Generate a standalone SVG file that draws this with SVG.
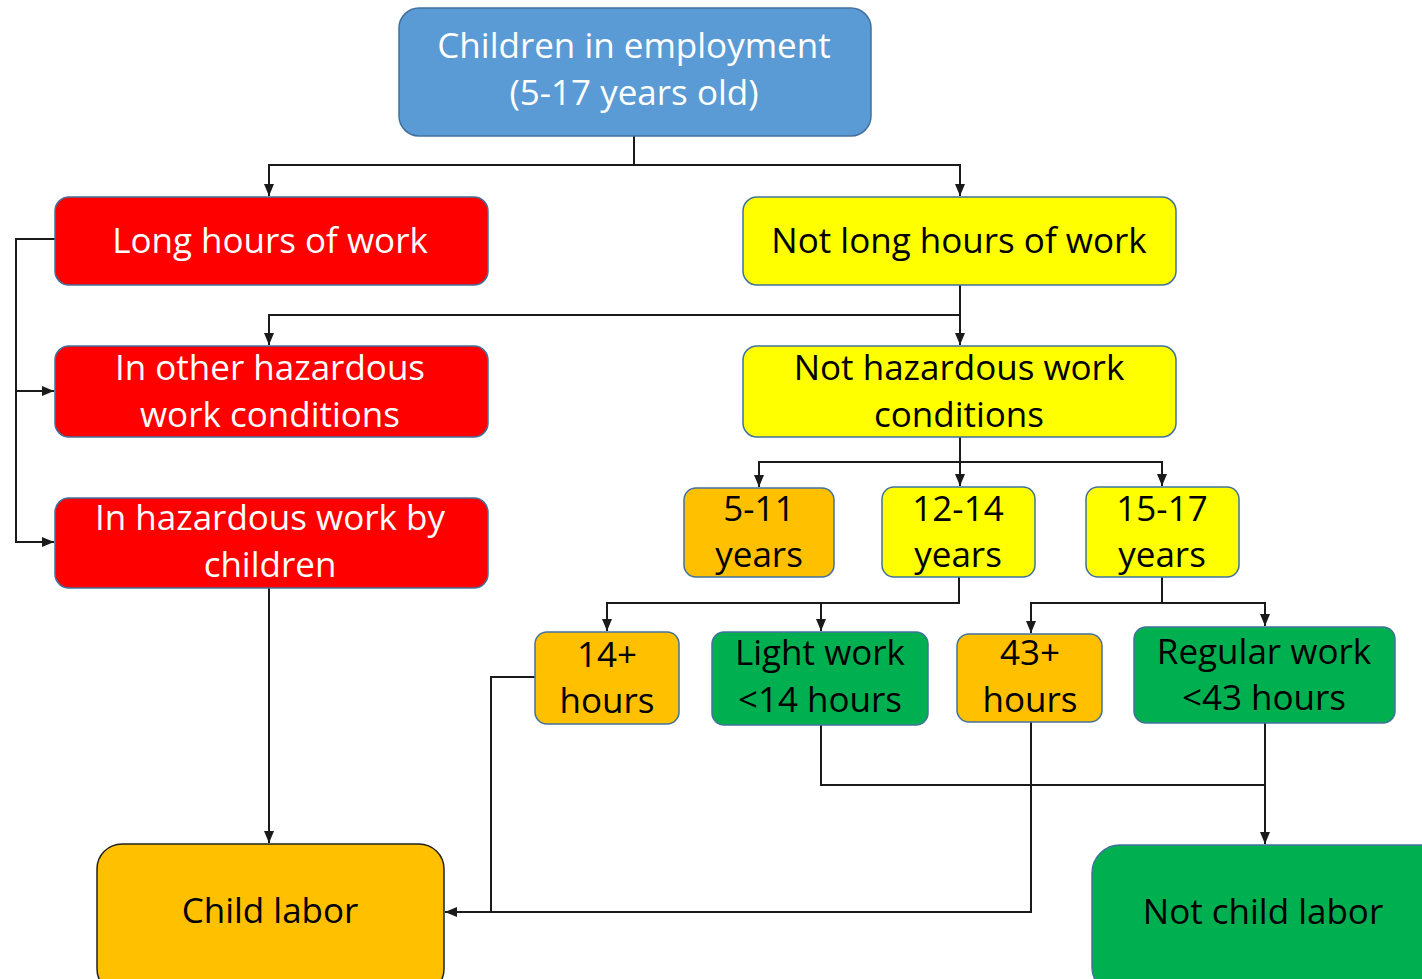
<svg xmlns="http://www.w3.org/2000/svg" width="1422" height="979" viewBox="0 0 1422 979">
<defs>
<style>
.n{stroke:#41719C;stroke-width:1.5}
.blue{fill:#5B9BD5}.red{fill:#FF0000}.yel{fill:#FFFF00}.org{fill:#FFC000}.grn{fill:#00B050}
text{font-family:"Open Sans","Liberation Sans",sans-serif;font-size:35px;text-anchor:middle}
.w{fill:#FFFFFF}.k{fill:#000000}
.c{fill:none;stroke:#1a1a1a;stroke-width:2}
</style>
<marker id="ah" markerUnits="userSpaceOnUse" markerWidth="14" markerHeight="12" refX="12" refY="5" orient="auto">
<path d="M0,0 L12,5 L0,10 z" fill="#1a1a1a"/>
</marker>
</defs>
<rect width="1422" height="979" fill="#FFFFFF"/>
<g id="connectors">
<path class="c" d="M634,136 V165"/>
<path class="c" d="M634,165 H269 V196" marker-end="url(#ah)"/>
<path class="c" d="M634,165 H960 V196" marker-end="url(#ah)"/>
<path class="c" d="M55,239 H16 V542 H54" marker-end="url(#ah)"/>
<path class="c" d="M16,391 H54" marker-end="url(#ah)"/>
<path class="c" d="M960,285 V345" marker-end="url(#ah)"/>
<path class="c" d="M960,315 H269 V345" marker-end="url(#ah)"/>
<path class="c" d="M960,437 V486" marker-end="url(#ah)"/>
<path class="c" d="M960,462 H759 V487" marker-end="url(#ah)"/>
<path class="c" d="M960,462 H1162 V486" marker-end="url(#ah)"/>
<path class="c" d="M959,577 V603 H607 V631" marker-end="url(#ah)"/>
<path class="c" d="M821,603 V631" marker-end="url(#ah)"/>
<path class="c" d="M1162,577 V603 H1031 V633" marker-end="url(#ah)"/>
<path class="c" d="M1162,603 H1265 V626" marker-end="url(#ah)"/>
<path class="c" d="M269,588 V843" marker-end="url(#ah)"/>
<path class="c" d="M535,677 H491 V912 H445" marker-end="url(#ah)"/>
<path class="c" d="M1031,722 V912 H491"/>
<path class="c" d="M821,725 V785 H1265"/>
<path class="c" d="M1265,723 V844" marker-end="url(#ah)"/>
</g>
<g id="employment">
<rect class="n blue" x="399" y="8" width="472" height="128" rx="20"/>
<text class="w" x="634" y="58">Children in employment</text>
<text class="w" x="634" y="105">(5-17 years old)</text>
</g>
<g id="long-hours">
<rect class="n red" x="55" y="197" width="433" height="88" rx="14"/>
<text class="w" x="270" y="253">Long hours of work</text>
</g>
<g id="not-long-hours">
<rect class="n yel" x="743" y="197" width="433" height="88" rx="14"/>
<text class="k" x="959" y="253">Not long hours of work</text>
</g>
<g id="other-hazardous">
<rect class="n red" x="55" y="346" width="433" height="91" rx="14"/>
<text class="w" x="270" y="380">In other hazardous</text>
<text class="w" x="270" y="427">work conditions</text>
</g>
<g id="not-hazardous">
<rect class="n yel" x="743" y="346" width="433" height="91" rx="14"/>
<text class="k" x="959" y="380">Not hazardous work</text>
<text class="k" x="959" y="427">conditions</text>
</g>
<g id="hazardous-by-children">
<rect class="n red" x="55" y="498" width="433" height="90" rx="14"/>
<text class="w" x="270" y="530">In hazardous work by</text>
<text class="w" x="270" y="577">children</text>
</g>
<g id="age-5-11">
<rect class="n org" x="684" y="488" width="150" height="89" rx="12"/>
<text class="k" x="759" y="521">5-11</text>
<text class="k" x="759" y="567">years</text>
</g>
<g id="age-12-14">
<rect class="n yel" x="882" y="487" width="153" height="90" rx="12"/>
<text class="k" x="958" y="521">12-14</text>
<text class="k" x="958" y="567">years</text>
</g>
<g id="age-15-17">
<rect class="n yel" x="1086" y="487" width="153" height="90" rx="12"/>
<text class="k" x="1162" y="521">15-17</text>
<text class="k" x="1162" y="567">years</text>
</g>
<g id="hours-14plus">
<rect class="n org" x="535" y="632" width="144" height="92" rx="12"/>
<text class="k" x="607" y="667">14+</text>
<text class="k" x="607" y="713">hours</text>
</g>
<g id="light-work">
<rect class="n grn" x="712" y="632" width="216" height="93" rx="12"/>
<text class="k" x="820" y="665">Light work</text>
<text class="k" x="820" y="712">&lt;14 hours</text>
</g>
<g id="hours-43plus">
<rect class="n org" x="957" y="634" width="145" height="88" rx="12"/>
<text class="k" x="1030" y="665">43+</text>
<text class="k" x="1030" y="712">hours</text>
</g>
<g id="regular-work">
<rect class="n grn" x="1134" y="627" width="261" height="96" rx="12"/>
<text class="k" x="1264" y="664">Regular work</text>
<text class="k" x="1264" y="710">&lt;43 hours</text>
</g>
<g id="child-labor">
<rect class="org" x="97" y="844" width="347" height="150" rx="25" stroke="#222" stroke-width="1.5"/>
<text class="k" x="270" y="923">Child labor</text>
</g>
<g id="not-child-labor">
<rect class="n grn" x="1092" y="845" width="360" height="150" rx="28"/>
<text class="k" x="1263" y="924">Not child labor</text>
</g>
</svg>
